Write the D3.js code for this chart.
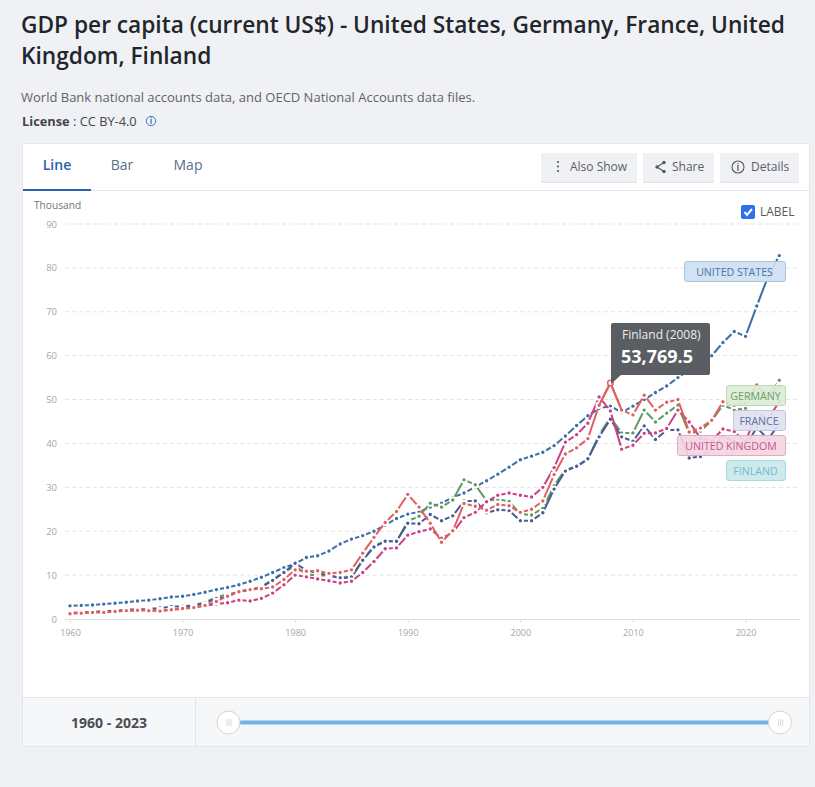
<!DOCTYPE html>
<meta charset="utf-8">
<script src="https://d3js.org/d3.v7.min.js"></script>
<style>
  html, body { margin: 0; padding: 0; background: #eff1f5; }
  svg { display: block; font-family: "Open Sans", sans-serif; }
</style>
<body>
<div id="chart"></div>
<script>

var years = d3.range(1960, 2024);
var yTicks = [0, 10, 20, 30, 40, 50, 60, 70, 80, 90];
var xTicks = [1960, 1970, 1980, 1990, 2000, 2010, 2020];

// in thousand US$
var unitedStates = [3.0,3.1,3.2,3.4,3.6,3.8,4.1,4.3,4.6,5.0,5.2,5.6,6.1,6.7,7.2,7.8,8.6,9.5,10.6,11.7,12.6,14.0,14.4,15.5,17.1,18.2,19.0,20.0,21.4,22.9,23.9,24.4,25.5,26.4,27.7,28.7,30.1,31.5,33.0,34.6,36.3,37.1,38.0,39.5,41.7,44.1,46.3,48.0,48.5,47.1,48.5,50.0,51.6,53.1,55.0,56.8,58.0,60.0,63.0,65.5,64.4,71.3,78.0,82.8];
var germany = [null,null,null,null,null,null,null,null,null,null,2.7,3.2,3.8,5.0,5.6,6.2,6.6,7.4,9.0,10.6,12.1,10.2,9.9,9.9,9.3,9.4,13.4,16.6,17.8,17.6,22.3,23.4,26.4,25.5,27.1,31.7,30.6,26.9,27.3,26.8,23.9,23.7,25.2,30.4,34.1,34.7,36.4,42.0,45.9,42.4,42.4,47.6,44.9,46.9,48.7,42.3,42.8,45.2,48.7,47.7,48.0,53.0,50.6,54.4];
var france = [1.3,1.4,1.6,1.8,1.9,2.1,2.2,2.3,2.5,2.8,2.9,3.1,3.6,4.7,5.0,6.4,6.6,7.2,8.8,10.6,12.7,11.1,10.5,9.9,9.4,9.6,13.4,16.4,17.7,17.7,21.8,21.7,23.8,22.4,23.5,26.9,26.9,24.2,24.9,24.7,22.4,22.4,24.2,29.6,33.7,34.8,36.5,41.5,45.5,41.5,40.5,44.0,40.9,43.0,43.1,36.7,37.0,38.8,41.6,40.5,39.2,43.7,40.9,44.5];
var unitedKingdom = [1.4,1.5,1.6,1.6,1.7,1.9,2.0,2.1,1.9,2.1,2.3,2.6,3.0,3.4,3.7,4.3,4.1,4.7,5.9,7.8,10.0,9.6,9.1,8.7,8.2,8.6,10.6,13.1,16.0,16.2,19.1,19.9,20.5,18.4,19.7,23.1,24.3,26.7,28.2,28.7,28.2,27.8,30.0,34.5,40.3,42.0,44.6,50.6,47.4,38.7,39.6,42.3,42.4,43.4,47.6,44.9,41.2,40.6,43.3,42.7,40.4,46.9,45.6,49.5];
var finland = [1.2,1.3,1.5,1.5,1.7,1.9,2.0,1.9,1.8,2.1,2.4,2.6,3.1,4.0,5.2,6.2,6.7,6.9,7.3,9.0,11.2,10.9,11.0,10.4,10.6,11.2,15.0,18.6,22.0,24.5,28.4,25.5,21.8,17.5,20.1,26.3,25.7,24.8,26.1,25.8,24.3,25.0,26.9,32.9,37.6,39.0,41.1,48.7,53.8,47.6,46.5,51.0,47.6,49.4,50.0,42.6,43.5,45.3,49.5,48.7,49.2,53.3,50.9,53.0];

var seriesNames = ["UNITED STATES", "GERMANY", "FRANCE", "UNITED KINGDOM", "FINLAND"];
var seriesValues = [unitedStates, germany, france, unitedKingdom, finland];
var seriesColors = ["#3a6ea8", "#5f9a5f", "#4a5a96", "#cc3f84", "#e0605c"];

var W = 815, H = 787;

var x = d3.scaleLinear().domain([1960, 2020]).range([70, 745.5]);
var y = d3.scaleLinear().domain([0, 90]).range([619, 224]);

var svg = d3.select("#chart").append("svg")
  .attr("width", W)
  .attr("height", H);

svg.append("rect").attr("width", W).attr("height", H).attr("fill", "#eff1f5");

function label(s, px, py, size, color, weight, anchor) {
  return svg.append("text")
    .attr("x", px).attr("y", py)
    .attr("font-size", size)
    .attr("fill", color)
    .attr("font-weight", weight || 400)
    .attr("text-anchor", anchor || "start")
    .text(s);
}

// header
label("GDP per capita (current US$) - United States, Germany, France, United", 21, 33, 22.7, "#22262b", 600);
label("Kingdom, Finland", 21, 64, 22.7, "#22262b", 600);
label("World Bank national accounts data, and OECD National Accounts data files.", 21, 102, 13, "#5f6368");
label("License", 22, 126, 12.8, "#43474c", 700);
label(": CC BY-4.0", 73, 126, 12.8, "#43474c");
svg.append("circle").attr("cx", 151).attr("cy", 121).attr("r", 4.7)
  .attr("fill", "none").attr("stroke", "#3b78c4").attr("stroke-width", 1);
label("i", 151, 124, 8, "#3b78c4", 700, "middle");

// card
svg.append("rect").attr("x", 22.5).attr("y", 143.5).attr("width", 787).attr("height", 603)
  .attr("fill", "#fff").attr("stroke", "#e3e6ea");
svg.append("line").attr("x1", 23).attr("x2", 809).attr("y1", 190.5).attr("y2", 190.5).attr("stroke", "#e3e6ea");
svg.append("rect").attr("x", 23).attr("y", 189).attr("width", 68).attr("height", 2).attr("fill", "#2a60b0");
label("Line", 57, 170, 14, "#2a60b0", 600, "middle");
label("Bar", 122, 170, 14, "#5a6f88", 400, "middle");
label("Map", 188, 170, 14, "#5a6f88", 400, "middle");

// buttons
[[541, 96, "Also Show", 570], [643, 71, "Share", 672], [720, 79, "Details", 751]].forEach(function(b) {
  svg.append("rect").attr("x", b[0]).attr("y", 153).attr("width", b[1]).attr("height", 30)
    .attr("rx", 2).attr("fill", "#dfe2e7");
  svg.append("rect").attr("x", b[0]).attr("y", 153).attr("width", b[1]).attr("height", 29)
    .attr("rx", 2).attr("fill", "#eff1f4");
  label(b[2], b[3], 171, 12, "#5a5e63");
});
[162, 166.5, 171].forEach(function(cy) {
  svg.append("circle").attr("cx", 558).attr("cy", cy).attr("r", 1.1).attr("fill", "#55595e");
});
svg.append("path").attr("d", "M664 162.5L657 167L664 171.5").attr("fill", "none").attr("stroke", "#55595e").attr("stroke-width", 1.2);
[[664, 162.5], [657, 167], [664, 171.5]].forEach(function(p) {
  svg.append("circle").attr("cx", p[0]).attr("cy", p[1]).attr("r", 1.7).attr("fill", "#55595e");
});
svg.append("circle").attr("cx", 738).attr("cy", 167).attr("r", 6).attr("fill", "none").attr("stroke", "#55595e").attr("stroke-width", 1.1);
label("i", 738, 171, 10, "#55595e", 600, "middle");

// label checkbox
svg.append("rect").attr("x", 741).attr("y", 205).attr("width", 14).attr("height", 14).attr("rx", 2).attr("fill", "#2f6fed");
svg.append("path").attr("d", "M744.5 212L747 215L752 209").attr("fill", "none").attr("stroke", "#fff").attr("stroke-width", 2);
label("LABEL", 760, 216, 12, "#55595e");

// axes
label("Thousand", 34, 209, 10.2, "#6f7378");

var yAxis = svg.append("g")
  .attr("transform", "translate(65,0)")
  .call(d3.axisLeft(y).tickValues(yTicks).tickSize(0).tickPadding(8).tickFormat(d3.format("d")));
yAxis.select(".domain").remove();
yAxis.selectAll("text").attr("font-size", 9.5).attr("font-family", "Open Sans").attr("fill", "#a3a6aa");

svg.append("g").selectAll("line")
  .data(yTicks.slice(1))
  .join("line")
  .attr("x1", 65).attr("x2", 800)
  .attr("y1", function(d) { return y(d); })
  .attr("y2", function(d) { return y(d); })
  .attr("stroke", "#e2e3e5")
  .attr("stroke-dasharray", "4,3");

var xAxis = svg.append("g")
  .attr("transform", "translate(0,619)")
  .call(d3.axisBottom(x).tickValues(xTicks).tickSize(4).tickPadding(7).tickFormat(d3.format("d")));
xAxis.select(".domain").remove();
xAxis.selectAll("line").attr("stroke", "#dcdee1");
xAxis.selectAll("text").attr("font-size", 9).attr("font-family", "Open Sans").attr("fill", "#a3a6aa");
svg.append("line").attr("x1", 65).attr("x2", 800).attr("y1", 619.5).attr("y2", 619.5).attr("stroke", "#dcdee1");

// series: solid line, each yearly dot carries a white ring that cuts the line
var line = d3.line()
  .defined(function(d) { return d != null; })
  .x(function(d, i) { return x(years[i]); })
  .y(function(d) { return y(d); });

seriesValues.forEach(function(values, k) {
  svg.append("path")
    .attr("d", line(values))
    .attr("fill", "none")
    .attr("stroke", seriesColors[k])
    .attr("stroke-width", 2);
  svg.append("g").selectAll("circle")
    .data(years.filter(function(yr, i) { return values[i] != null; }))
    .join("circle")
    .attr("cx", function(yr) { return x(yr); })
    .attr("cy", function(yr) { return y(values[yr - 1960]); })
    .attr("r", 2.7)
    .attr("fill", seriesColors[k])
    .attr("stroke", "#fff")
    .attr("stroke-width", 2);
});

// hovered stretch of Finland around 2008
svg.append("path")
  .attr("d", line(finland.map(function(v, i) { return years[i] >= 2007 && years[i] <= 2009 ? v : null; })))
  .attr("fill", "none").attr("stroke", seriesColors[4]).attr("stroke-width", 2);
svg.append("circle")
  .attr("cx", x(2008)).attr("cy", y(53.7695)).attr("r", 2.8)
  .attr("fill", "#fff").attr("stroke", seriesColors[4]).attr("stroke-width", 1.5);

// end labels
var labelBoxes = [
  { i: 0, x0: 684, top: 261, fill: "#cfe0f1", edge: "#a9c6e3", text: "#4478ac" },
  { i: 1, x0: 726, top: 385, fill: "#dcecd8", edge: "#bcd9b6", text: "#6a9f66" },
  { i: 2, x0: 733, top: 410, fill: "#dfe2ef", edge: "#c0c6de", text: "#5f6da3" },
  { i: 3, x0: 677, top: 435, fill: "#f3d6e3", edge: "#e5a9c5", text: "#c8558d" },
  { i: 4, x0: 726, top: 460, fill: "#cbe8ec", edge: "#a6d9e0", text: "#72bcc9" }
];
labelBoxes.forEach(function(b) {
  svg.append("rect")
    .attr("x", b.x0 + 0.5).attr("y", b.top + 0.5)
    .attr("width", 785 - b.x0).attr("height", 20).attr("rx", 2.5)
    .attr("fill", b.fill).attr("fill-opacity", 0.92).attr("stroke", b.edge);
  label(seriesNames[b.i], (b.x0 + 785) / 2, b.top + 14.5, 10.6, b.text, 400, "middle");
});

// tooltip
svg.append("path")
  .attr("d", "M613 323H708a2 2 0 0 1 2 2V373a2 2 0 0 1-2 2H621L611 384L611 325a2 2 0 0 1 2-2Z")
  .attr("fill", "#5a5d61");
label("Finland (2008)", 622, 339, 12, "#eceded");
label("53,769.5", 621, 363, 18, "#fff", 700);

// range slider
svg.append("rect").attr("x", 23).attr("y", 698).attr("width", 786).attr("height", 48).attr("fill", "#f6f7f9");
svg.append("line").attr("x1", 23).attr("x2", 809).attr("y1", 697.5).attr("y2", 697.5).attr("stroke", "#e3e6ea");
svg.append("line").attr("x1", 195.5).attr("x2", 195.5).attr("y1", 698).attr("y2", 746).attr("stroke", "#e3e6ea");
label("1960 - 2023", 109, 728, 14, "#4a4e53", 700, "middle");
svg.append("rect").attr("x", 238).attr("y", 720.5).attr("width", 532).attr("height", 4).attr("fill", "#72b0e8");
[228.5, 780].forEach(function(cx) {
  svg.append("circle").attr("cx", cx).attr("cy", 722.5).attr("r", 11.5)
    .attr("fill", "#fff").attr("stroke", "#cfd3d9");
  [-2, 0, 2].forEach(function(dx) {
    svg.append("line").attr("x1", cx + dx + 0.5).attr("x2", cx + dx + 0.5)
      .attr("y1", 719).attr("y2", 726).attr("stroke", "#c9cdd2").attr("stroke-width", 0.7);
  });
});

</script>
</body>
</html>
